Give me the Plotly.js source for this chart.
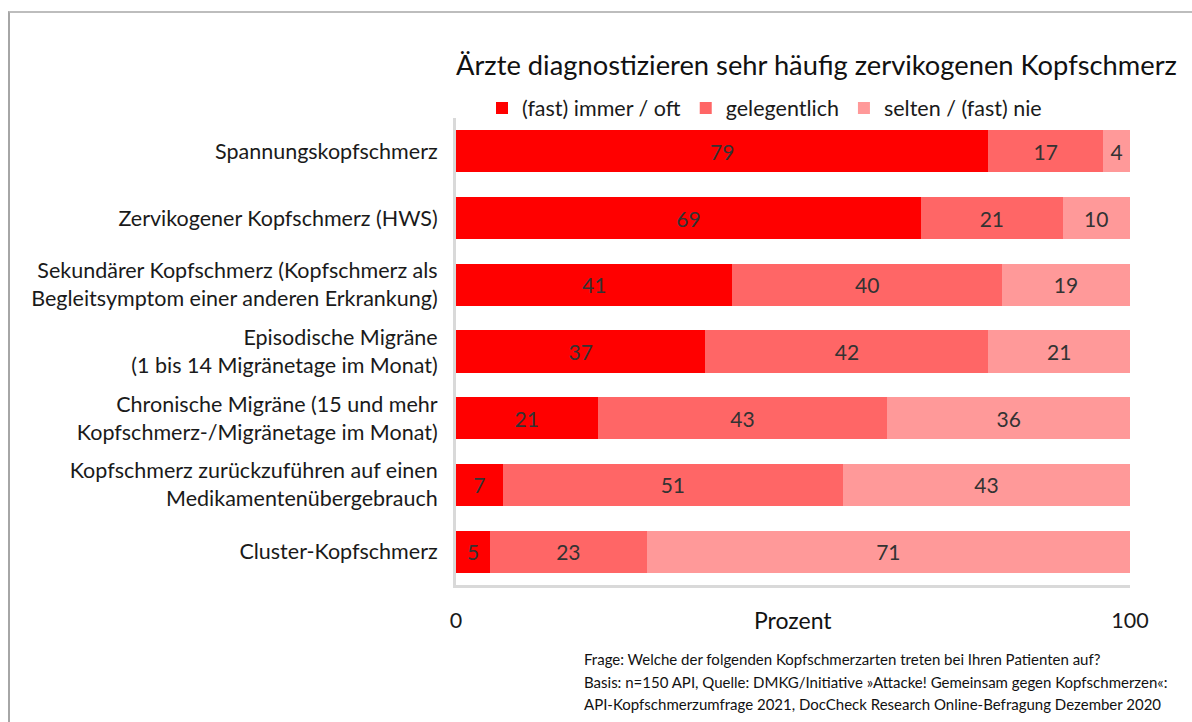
<!DOCTYPE html>
<html>
<head>
<meta charset="utf-8">
<script src="https://cdn.plot.ly/plotly-3.0.1.min.js"></script>
<style>
  html, body { margin: 0; padding: 0; background: #fff; }
  #chart { position: absolute; left: 0; top: 0; width: 1192px; height: 722px; }
  #frame { position: absolute; left: 8px; top: 11px; width: 1200px; height: 720px;
           border-left: 2px solid #A6A6A6; border-top: 2px solid #BDBDBD; pointer-events: none; }
</style>
</head>
<body>
<div id="chart"></div>
<div id="frame"></div>
<script>
const categories = [
  "Spannungskopfschmerz",
  "Zervikogener Kopfschmerz (HWS)",
  "Sekundärer Kopfschmerz (Kopfschmerz als<br>Begleitsymptom einer anderen Erkrankung)",
  "Episodische Migräne<br>(1 bis 14 Migränetage im Monat)",
  "Chronische Migräne (15 und mehr<br>Kopfschmerz-/Migränetage im Monat)",
  "Kopfschmerz zurückzuführen auf einen<br>Medikamentenübergebrauch",
  "Cluster-Kopfschmerz"
];
const seriesNames = ["(fast) immer / oft", "gelegentlich", "selten / (fast) nie"];
const immerOft = [79, 69, 41, 37, 21, 7, 5];
const gelegentlich = [17, 21, 40, 42, 43, 51, 23];
const seltenNie = [4, 10, 19, 21, 36, 43, 71];
const colors = ["#FF0000", "#FF6666", "#FF9999"];
const xTicks = [0, 100];
const footnoteLines = [
  "Frage: Welche der folgenden Kopfschmerzarten treten bei Ihren Patienten auf?",
  "Basis: n=150 API, Quelle: DMKG/Initiative »Attacke! Gemeinsam gegen Kopfschmerzen«:",
  "API-Kopfschmerzumfrage 2021, DocCheck Research Online-Befragung Dezember 2020"
];

const FONT = "Lato, 'Open Sans', sans-serif";
const PLOT_TOP = 118, PLOT_BOTTOM = 585, PLOT_H = PLOT_BOTTOM - PLOT_TOP;
const PLOT_LEFT = 456, PLOT_W = 674;
const pyToPaper = py => (PLOT_BOTTOM - py) / PLOT_H;
const pxToPaper = px => (px - PLOT_LEFT) / PLOT_W;

const seriesValues = [immerOft, gelegentlich, seltenNie];
const traces = seriesValues.map((vals, i) => ({
  type: "bar",
  orientation: "h",
  name: seriesNames[i],
  y: categories,
  x: vals,
  text: vals.map(String),
  texttemplate: "%{text}",
  textposition: "inside",
  insidetextanchor: "middle",
  textangle: 0,
  constraintext: "none",
  textfont: { family: FONT, size: 21, color: "#333333" },
  marker: { color: colors[i], line: { width: 0 } },
  hoverinfo: "name+text"
}));

const annotations = [
  {
    text: "Prozent",
    xref: "paper", yref: "paper",
    x: 0.5, y: pyToPaper(620),
    xanchor: "center", yanchor: "middle",
    showarrow: false,
    font: { family: FONT, size: 23, color: "#111111" }
  }
];
const footY = [659, 681.5, 704];
footnoteLines.forEach((line, i) => {
  annotations.push({
    text: line,
    xref: "paper", yref: "paper",
    x: pxToPaper(582), y: pyToPaper(footY[i]),
    xanchor: "left", yanchor: "middle",
    align: "left",
    showarrow: false,
    font: { family: FONT, size: 15, color: "#111111" }
  });
});

const layout = {
  width: 1192,
  height: 722,
  paper_bgcolor: "#ffffff",
  plot_bgcolor: "#ffffff",
  margin: { l: 456, r: 62, t: 118, b: 137 },
  barmode: "stack",
  barnorm: "percent",
  bargap: 0.37,
  font: { family: FONT, color: "#1a1a1a" },
  title: {
    text: "Ärzte diagnostizieren sehr häufig zervikogenen Kopfschmerz",
    font: { family: FONT, size: 27.3, color: "#111111" },
    xref: "paper", x: 0, xanchor: "left",
    yref: "container", y: 1 - 65 / 722, yanchor: "middle"
  },
  showlegend: true,
  legend: {
    orientation: "h",
    xref: "paper", x: pxToPaper(482), xanchor: "left",
    yref: "paper", y: pyToPaper(108), yanchor: "middle",
    font: { family: FONT, size: 21.5, color: "#1a1a1a" },
    traceorder: "normal",
    itemwidth: 30,
    itemsizing: "constant",
    bgcolor: "rgba(0,0,0,0)"
  },
  xaxis: {
    range: [0, 100],
    tickvals: xTicks,
    ticktext: xTicks.map(String),
    ticks: "",
    showgrid: false,
    zeroline: false,
    showline: true,
    linecolor: "#D9D9D9",
    linewidth: 3,
    ticklabelstandoff: 14,
    tickfont: { family: FONT, size: 21.5, color: "#1a1a1a" },
    fixedrange: true
  },
  yaxis: {
    autorange: "reversed",
    type: "category",
    ticks: "",
    showgrid: false,
    zeroline: false,
    showline: true,
    linecolor: "#D9D9D9",
    linewidth: 3,
    ticklabelstandoff: 11,
    tickfont: { family: FONT, size: 21.5, color: "#1a1a1a" },
    fixedrange: true
  },
  annotations: annotations
};

Plotly.newPlot("chart", traces, layout, { displayModeBar: false });
</script>
</body>
</html>
